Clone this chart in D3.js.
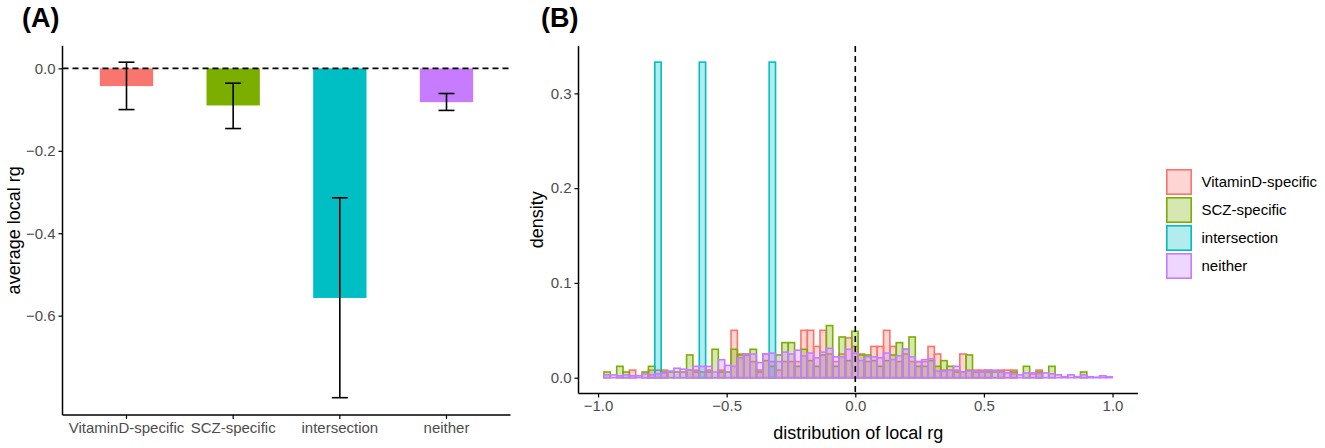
<!DOCTYPE html>
<html>
<head>
<meta charset="utf-8">
<script src="https://cdn.jsdelivr.net/npm/d3@7"></script>
<style>
  html, body { margin: 0; padding: 0; background: #fff; }
  svg { display: block; font-family: "Liberation Sans", Arial, sans-serif; }
</style>
</head>
<body>
<svg id="chart" width="1325" height="448"></svg>
<script>
// ---------------- DATA ----------------
const categories = ["VitaminD-specific", "SCZ-specific", "intersection", "neither"];
const colors = ["#F8766D", "#7CAE00", "#00BFC4", "#C77CFF"];
const meanRg = [-0.043, -0.090, -0.557, -0.082];
const errLow = [-0.100, -0.146, -0.799, -0.102];
const errHigh = [0.015, -0.036, -0.314, -0.061];
const yTicksA = [0, -0.2, -0.4, -0.6];

// histogram bins (80 bins)
const binStart = -0.977;
const binWidth = 0.0247;
const densVitD = [
  0, 0, 0, 0, 0.008, 0, 0, 0.008, 0.008, 0.008,
  0, 0, 0, 0.008, 0.008, 0, 0.008, 0, 0.008, 0,
  0.050, 0.025, 0.025, 0.017, 0.008, 0.025, 0.017, 0.008, 0.017, 0.017,
  0.017, 0.050, 0.050, 0.033, 0.050, 0.025, 0.017, 0.025, 0.042, 0.033,
  0.025, 0.017, 0.033, 0.033, 0.050, 0.033, 0.017, 0.025, 0.017, 0.017,
  0.017, 0.033, 0.025, 0.008, 0.008, 0.008, 0.025, 0.008, 0.008, 0.008,
  0.008, 0, 0.008, 0.008, 0.008, 0, 0, 0.004, 0.008, 0,
  0, 0, 0, 0, 0, 0, 0, 0, 0, 0
];
const densSCZ = [
  0.006, 0, 0.012, 0.006, 0, 0, 0.006, 0.012, 0, 0.006,
  0.006, 0.006, 0.006, 0.024, 0.006, 0.006, 0.006, 0.030, 0.006, 0.006,
  0.030, 0.024, 0.024, 0.030, 0.006, 0.018, 0.012, 0.024, 0.037, 0.037,
  0.012, 0.030, 0.018, 0.012, 0.024, 0.055, 0.012, 0.043, 0.018, 0.049,
  0.024, 0.024, 0.018, 0.012, 0.018, 0.024, 0.037, 0.030, 0.043, 0.012,
  0.012, 0.018, 0.012, 0.018, 0.012, 0.006, 0.006, 0.024, 0.006, 0.006,
  0.006, 0.006, 0.006, 0, 0.006, 0, 0.012, 0, 0.006, 0,
  0.012, 0, 0, 0, 0, 0.006, 0, 0, 0, 0
];
const densInter = [
  0, 0, 0, 0, 0, 0, 0, 0, 0.333, 0,
  0, 0, 0, 0, 0, 0.333, 0, 0, 0, 0,
  0, 0, 0, 0, 0, 0, 0.333, 0, 0, 0,
  0, 0, 0, 0, 0, 0, 0, 0, 0, 0,
  0, 0, 0, 0, 0, 0, 0, 0, 0, 0,
  0, 0, 0, 0, 0, 0, 0, 0, 0, 0,
  0, 0, 0, 0, 0, 0, 0, 0, 0, 0,
  0, 0, 0, 0, 0, 0, 0, 0, 0, 0
];
const densNeither = [
  0.003, 0.003, 0.002, 0.003, 0.002, 0.002, 0.004, 0.003, 0.004, 0.005,
  0.007, 0.010, 0.009, 0.008, 0.012, 0.012, 0.012, 0.006, 0.019, 0.013,
  0.012, 0.021, 0.025, 0.025, 0.016, 0.025, 0.026, 0.017, 0.027, 0.025,
  0.029, 0.023, 0.026, 0.021, 0.027, 0.031, 0.022, 0.022, 0.030, 0.026,
  0.018, 0.022, 0.022, 0.021, 0.026, 0.019, 0.023, 0.030, 0.022, 0.017,
  0.019, 0.020, 0.007, 0.007, 0.008, 0.012, 0.006, 0.007, 0.007, 0.006,
  0.008, 0.008, 0.006, 0.005, 0.004, 0.003, 0.005, 0.005, 0.004, 0.005,
  0.004, 0.003, 0.001, 0.003, 0.001, 0.003, 0.001, 0.0005, 0.002, 0.001
];
const xTicksB = [-1, -0.5, 0, 0.5, 1];
const yTicksB = [0, 0.1, 0.2, 0.3];

// ---------------- DRAW ----------------
const svg = d3.select("#chart");
const tickColor = "#4D4D4D";
const tickFont = 15;
const titleFont = 18;

// ===== Panel A =====
const A = { left: 62.5, right: 510.5, top: 45.7, bottom: 415 };
const xA = d3.scaleBand().domain(categories).range([A.left, A.right]).paddingOuter(0.1).paddingInner(0);
const yA = d3.scaleLinear().domain([-0.841, 0.055]).range([A.bottom, A.top]);
const gA = svg.append("g");

const barW = xA.bandwidth() * 0.5;
gA.selectAll("rect.bar").data(categories).join("rect")
  .attr("class", "bar")
  .attr("x", d => xA(d) + xA.bandwidth() / 2 - barW / 2)
  .attr("width", barW)
  .attr("y", (d, i) => Math.min(yA(0), yA(meanRg[i])))
  .attr("height", (d, i) => Math.abs(yA(meanRg[i]) - yA(0)))
  .attr("fill", (d, i) => colors[i]);

// error bars
const capW = xA.bandwidth() * 0.15;
categories.forEach((c, i) => {
  const cx = xA(c) + xA.bandwidth() / 2;
  const g = gA.append("g").attr("stroke", "#000").attr("stroke-width", 1.6).attr("fill", "none");
  g.append("line").attr("x1", cx).attr("x2", cx).attr("y1", yA(errHigh[i])).attr("y2", yA(errLow[i]));
  g.append("line").attr("x1", cx - capW / 2).attr("x2", cx + capW / 2).attr("y1", yA(errHigh[i])).attr("y2", yA(errHigh[i]));
  g.append("line").attr("x1", cx - capW / 2).attr("x2", cx + capW / 2).attr("y1", yA(errLow[i])).attr("y2", yA(errLow[i]));
});

// dashed zero line
gA.append("line")
  .attr("x1", A.left).attr("x2", A.right)
  .attr("y1", yA(0)).attr("y2", yA(0))
  .attr("stroke", "#000").attr("stroke-width", 1.6).attr("stroke-dasharray", "6,4");

// axes A
const yAxisA = d3.axisLeft(yA).tickValues(yTicksA).tickFormat(d3.format(".1f")).tickSize(4).tickPadding(3);
const gyA = gA.append("g").attr("transform", `translate(${A.left},0)`).call(yAxisA);
const xAxisA = d3.axisBottom(xA).tickSize(4).tickPadding(3);
const gxA = gA.append("g").attr("transform", `translate(0,${A.bottom})`).call(xAxisA);
[gyA, gxA].forEach(g => {
  g.select(".domain").attr("stroke", "#000").attr("stroke-width", 1.5);
  g.selectAll(".tick line").attr("stroke", "#000").attr("stroke-width", 1.2);
  g.selectAll(".tick text").attr("fill", tickColor).attr("font-size", tickFont).attr("font-family", "Liberation Sans, Arial, sans-serif");
});
gyA.select(".domain").attr("d", `M0,${A.top}V${A.bottom}`);
gxA.select(".domain").attr("d", `M${A.left},0H${A.right}`);

gA.append("text")
  .attr("transform", `translate(20,${(A.top + A.bottom) / 2}) rotate(-90)`)
  .attr("text-anchor", "middle")
  .attr("font-size", titleFont)
  .text("average local rg");

svg.append("text").attr("x", 22).attr("y", 27)
  .attr("font-size", 27).attr("font-weight", "bold").text("(A)");

// ===== Panel B =====
const B = { left: 578.5, right: 1138, top: 46, bottom: 393.5 };
const xB = d3.scaleLinear().domain([-1.076, 1.099]).range([B.left, B.right]);
const yB = d3.scaleLinear().domain([-0.01667, 0.35]).range([B.bottom, B.top]);
const gB = svg.append("g");

const groups = [densVitD, densSCZ, densInter, densNeither];
groups.forEach((arr, gi) => {
  gB.append("g").selectAll("rect").data(arr).join("rect")
    .attr("x", (d, k) => xB(binStart + k * binWidth))
    .attr("width", (d, k) => xB(binStart + (k + 1) * binWidth) - xB(binStart + k * binWidth))
    .attr("y", d => yB(d))
    .attr("height", d => yB(0) - yB(d))
    .attr("fill", colors[gi]).attr("fill-opacity", 0.3)
    .attr("stroke", colors[gi]).attr("stroke-width", 1.6);
});

// dashed vertical line at 0
gB.append("line")
  .attr("x1", xB(0)).attr("x2", xB(0))
  .attr("y1", B.top).attr("y2", B.bottom)
  .attr("stroke", "#000").attr("stroke-width", 1.6).attr("stroke-dasharray", "6,4");

const xAxisB = d3.axisBottom(xB).tickValues(xTicksB).tickFormat(d3.format(".1f")).tickSize(4).tickPadding(3);
const yAxisB = d3.axisLeft(yB).tickValues(yTicksB).tickFormat(d3.format(".1f")).tickSize(4).tickPadding(3);
const gxB = gB.append("g").attr("transform", `translate(0,${B.bottom})`).call(xAxisB);
const gyB = gB.append("g").attr("transform", `translate(${B.left},0)`).call(yAxisB);
[gxB, gyB].forEach(g => {
  g.select(".domain").attr("stroke", "#000").attr("stroke-width", 1.5);
  g.selectAll(".tick line").attr("stroke", "#000").attr("stroke-width", 1.2);
  g.selectAll(".tick text").attr("fill", tickColor).attr("font-size", tickFont).attr("font-family", "Liberation Sans, Arial, sans-serif");
});
gyB.select(".domain").attr("d", `M0,${B.top}V${B.bottom}`);
gxB.select(".domain").attr("d", `M${B.left},0H${B.right}`);

gB.append("text")
  .attr("x", (B.left + B.right) / 2).attr("y", 439)
  .attr("text-anchor", "middle").attr("font-size", titleFont)
  .text("distribution of local rg");
gB.append("text")
  .attr("transform", `translate(543,${(B.top + B.bottom) / 2}) rotate(-90)`)
  .attr("text-anchor", "middle").attr("font-size", titleFont)
  .text("density");

svg.append("text").attr("x", 541).attr("y", 27)
  .attr("font-size", 27).attr("font-weight", "bold").text("(B)");

// legend
const legend = svg.append("g").attr("transform", "translate(1166,169)");
categories.forEach((c, i) => {
  const g = legend.append("g").attr("transform", `translate(0,${i * 28})`);
  g.append("rect").attr("x", 0.8).attr("y", 0.8).attr("width", 24.4).attr("height", 24.4)
    .attr("fill", colors[i]).attr("fill-opacity", 0.3)
    .attr("stroke", colors[i]).attr("stroke-width", 1.6);
  g.append("text").attr("x", 35.5).attr("y", 13).attr("dy", "0.35em")
    .attr("font-size", tickFont).attr("fill", "#000").text(c);
});
</script>
</body>
</html>
